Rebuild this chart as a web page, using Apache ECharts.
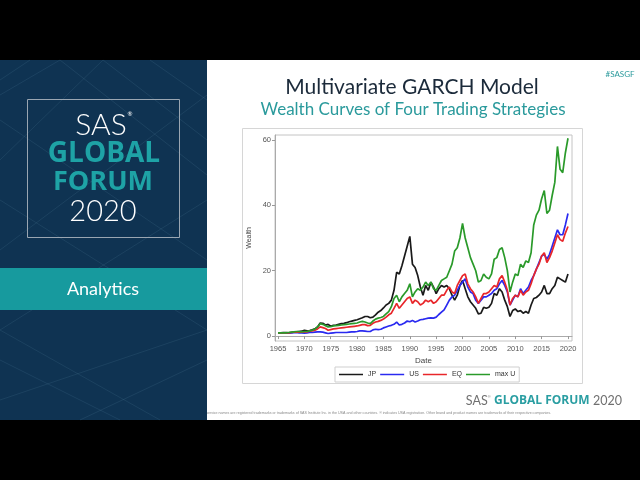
<!DOCTYPE html>
<html>
<head>
<meta charset="utf-8">
<script src="https://cdn.jsdelivr.net/npm/echarts@6/dist/echarts.min.js"></script>
<style>
html,body{margin:0;padding:0;background:#000;}
#main{width:640px;height:480px;}
</style>
</head>
<body>
<div id="main"></div>
<script>
// ---- data ----
const dates = [];
for (let y = 1965; y <= 2020; y += 0.5) dates.push(y);

const seriesNames = ['JP', 'US', 'EQ', 'max U'];
const xTicks = [1965, 1970, 1975, 1980, 1985, 1990, 1995, 2000, 2005, 2010, 2015, 2020];
const yTicks = [0, 20, 40, 60];

const jp = [1.0,1.0,1.1,1.1,1.0,1.1,1.2,1.3,1.4,1.5,1.8,1.6,1.7,1.9,2.2,2.8,4.0,3.9,3.4,3.6,
  3.0,3.3,3.4,3.6,3.8,3.9,4.1,4.4,4.6,4.8,5.0,5.3,5.6,6.0,6.0,5.6,5.8,6.5,7.3,7.8,
  8.6,9.5,10.0,11.0,14.0,19.5,19.0,21.5,24.5,27.5,30.5,22.0,21.0,18.5,15.0,12.5,15.5,14.0,16.5,15.0,
  13.0,14.5,15.5,15.0,15.5,14.5,12.5,11.0,12.5,15.5,17.0,14.5,12.0,10.5,9.5,8.5,6.8,7.0,8.8,8.5,
  8.8,10.0,13.0,12.5,14.5,13.5,11.0,9.0,6.0,7.8,8.3,7.5,7.8,7.0,7.5,7.0,9.5,11.5,11.8,12.5,
  13.5,15.5,13.0,13.0,14.5,15.5,18.0,17.5,17.0,16.5,19.0];

const us = [1.0,1.0,0.95,0.95,1.0,1.0,1.05,1.1,1.0,0.95,0.9,0.95,1.1,1.1,1.2,1.3,1.3,1.2,1.0,0.8,
  0.9,1.0,1.1,1.1,1.1,1.1,1.1,1.2,1.3,1.3,1.4,1.6,1.6,1.5,1.4,1.4,1.9,2.1,2.0,2.1,
  2.5,2.8,3.1,3.3,3.6,4.3,3.4,3.6,4.0,4.6,4.4,4.8,4.3,4.6,5.0,5.1,5.3,5.5,5.6,5.5,
  5.8,6.6,7.3,8.0,9.5,11.0,12.0,12.5,14.0,15.5,16.5,17.5,15.0,13.5,13.0,11.0,10.0,11.0,12.0,12.0,
  12.5,13.0,14.0,14.5,16.0,17.0,15.5,13.5,9.5,11.0,12.5,12.0,14.5,13.0,14.0,15.0,17.0,18.5,20.5,22.5,
  24.5,25.0,23.5,25.0,27.5,30.0,32.5,31.0,31.0,34.0,37.5];

const eq = [1.0,1.0,1.0,1.0,1.0,1.1,1.2,1.2,1.2,1.2,1.3,1.3,1.5,1.6,1.8,2.2,2.8,2.6,2.3,1.8,
  2.0,2.2,2.3,2.4,2.5,2.6,2.7,2.8,2.9,3.0,3.1,3.3,3.5,3.5,3.2,3.3,3.9,4.3,4.5,4.8,
  5.2,5.8,6.5,7.0,8.5,10.0,8.5,9.5,10.5,11.5,12.0,10.0,11.0,10.5,9.5,10.0,11.0,10.5,11.0,10.0,
  10.5,11.5,12.5,12.5,14.0,15.0,13.5,13.0,15.5,17.0,18.5,19.0,16.0,14.5,13.5,12.0,10.0,11.5,13.0,13.0,
  13.5,14.5,15.5,15.0,17.5,18.5,16.5,14.0,9.5,11.5,12.5,12.0,14.0,12.5,13.5,14.0,16.0,18.5,20.5,22.0,
  24.5,25.5,22.5,24.0,26.0,28.5,31.0,29.5,29.0,31.5,33.5];

const maxU = [1.0,1.0,1.0,1.0,1.1,1.2,1.3,1.4,1.4,1.3,1.4,1.4,1.6,1.8,2.2,2.8,3.8,3.6,3.2,2.8,
  2.9,3.1,3.2,3.3,3.4,3.5,3.6,3.7,3.8,3.9,4.0,4.3,4.5,4.3,4.0,3.8,4.6,5.2,5.5,5.7,
  6.0,6.8,7.5,9.0,11.5,12.5,10.5,12.0,13.0,14.0,16.0,12.0,13.5,14.5,14.0,15.0,16.5,15.5,16.5,14.5,
  14.0,15.5,17.0,17.5,18.0,20.0,22.0,26.0,27.0,30.0,34.5,30.0,27.0,24.0,22.0,20.0,16.5,17.0,19.0,18.0,
  17.5,19.0,23.5,24.0,26.5,27.0,24.0,20.0,13.5,16.5,19.0,18.5,22.0,21.0,23.0,22.5,25.5,34.0,37.0,38.5,
  42.0,44.5,37.5,38.5,43.0,47.0,58.0,51.0,50.0,56.0,60.5];

const seriesValues = [jp, us, eq, maxU];
const seriesColors = ['#1a1a1a', '#2a2af0', '#e8262a', '#2a9a2a'];

// ---- decoration helpers ----
const navy = '#0f3352';
const teal = '#179a9e';
const patternLines = [
  [[0,95],[60,60]], [[0,160],[103,60]], [[60,60],[207,175]], [[0,250],[207,95]],
  [[103,60],[207,140]], [[0,330],[207,200]], [[0,200],[207,330]], [[0,120],[207,260]],
  [[0,360],[120,420]], [[0,400],[207,330]], [[80,420],[207,360]], [[0,330],[160,420]],
  [[150,60],[207,100]], [[30,60],[0,80]]
];

const chart = echarts.init(document.getElementById('main'));
const graphics = [
  {type:'rect', z:-10, shape:{x:0,y:0,width:640,height:480}, style:{fill:'#000'}},
  {type:'rect', z:-9, shape:{x:0,y:60,width:640,height:360}, style:{fill:'#fff'}},
  // trademark line (partially hidden by the left panel)
  {type:'text', z:-8, style:{x:551, y:413, text:'Copyright © SAS Institute Inc. All rights reserved. SAS and all other SAS Institute Inc. product or service names are registered trademarks or trademarks of SAS Institute Inc. in the USA and other countries. ® indicates USA registration. Other brand and product names are trademarks of their respective companies.', textAlign:'right', textVerticalAlign:'middle', fontSize:3.6, fill:'#888', fontFamily:'Liberation Sans'}},
  {type:'rect', z:-7, shape:{x:0,y:60,width:207,height:360}, style:{fill:navy}},
];
patternLines.forEach(p => graphics.push({type:'line', z:-6, shape:{x1:p[0][0],y1:p[0][1],x2:p[1][0],y2:p[1][1]}, style:{stroke:'rgba(120,170,200,0.12)', lineWidth:1}}));
graphics.push(
  {type:'rect', z:-5, shape:{x:27.5,y:99.5,width:152,height:138}, style:{fill:'none', stroke:'#9aa6b2', lineWidth:1}},
  {type:'text', z:-4, style:{x:101, y:125, text:'SAS', textAlign:'center', textVerticalAlign:'middle', fontSize:30, fill:'#fff', fontFamily:'Lato', fontWeight:300}},
  {type:'text', z:-4, style:{x:130, y:114, text:'®', textAlign:'center', textVerticalAlign:'middle', fontSize:6, fill:'#fff', fontFamily:'Lato'}},
  {type:'text', z:-4, style:{x:104, y:154, text:'GLOBAL', textAlign:'center', textVerticalAlign:'middle', fontSize:28, fill:'#1ea3a6', fontFamily:'Open Sans', fontWeight:'bold'}},
  {type:'text', z:-4, style:{x:103, y:182, text:'FORUM', textAlign:'center', textVerticalAlign:'middle', fontSize:27, fill:'#1ea3a6', fontFamily:'Open Sans', fontWeight:'bold'}},
  {type:'text', z:-4, style:{x:103, y:212, text:'2020', textAlign:'center', textVerticalAlign:'middle', fontSize:29, fill:'#fff', fontFamily:'Lato', fontWeight:300}},
  {type:'rect', z:-5, shape:{x:0,y:268,width:207,height:42}, style:{fill:teal}},
  {type:'text', z:-4, style:{x:103, y:289, text:'Analytics', textAlign:'center', textVerticalAlign:'middle', fontSize:18, fill:'#fff', fontFamily:'Lato'}},
  // slide titles
  {type:'text', z:-4, style:{x:412, y:87, text:'Multivariate GARCH Model', textAlign:'center', textVerticalAlign:'middle', fontSize:21, fill:'#1b2a3a', fontFamily:'Lato'}},
  {type:'text', z:-4, style:{x:413, y:110, text:'Wealth Curves of Four Trading Strategies', textAlign:'center', textVerticalAlign:'middle', fontSize:17, fill:'#2a9a9c', fontFamily:'Lato'}},
  {type:'text', z:-4, style:{x:620, y:74, text:'#SASGF', textAlign:'center', textVerticalAlign:'middle', fontSize:8, fill:'#2a9a9c', fontFamily:'Lato'}},
  // footer logo
  {type:'text', z:-4, style:{x:622, y:401, textAlign:'right', textVerticalAlign:'middle',
    text:'{a|SAS}{r|®} {b|GLOBAL FORUM} {a|2020}',
    rich:{a:{fontSize:12.5, fill:'#707070', fontFamily:'Lato'}, r:{fontSize:4, fill:'#707070', verticalAlign:'top'}, b:{fontSize:12, fill:'#2a9ea2', fontFamily:'Open Sans', fontWeight:'bold'}}}},
  // chart image frame
  {type:'rect', z:-3, shape:{x:242.5,y:128.5,width:340,height:255}, style:{fill:'#fff', stroke:'#d6d6d6', lineWidth:1}}
);

chart.setOption({
  animation: false,
  backgroundColor: 'transparent',
  textStyle: {fontFamily: 'Liberation Sans'},
  graphic: graphics,
  grid: {left: 275, right: 68, top: 135, bottom: 139, show: true, borderColor: '#c4c4c4', borderWidth: 1, backgroundColor: '#fff'},
  legend: {
    left: 335, top: 367, itemWidth: 24, itemHeight: 1.5, itemGap: 4, icon: 'rect',
    padding: [4, 4], borderColor: '#cfcfcf', borderWidth: 1,
    textStyle: {fontSize: 7, color: '#333'},
    data: seriesNames
  },
  xAxis: {
    type: 'value', min: 1964.43, max: 2020.76,
    name: 'Date', nameLocation: 'middle', nameGap: 16,
    nameTextStyle: {fontSize: 8, color: '#444'},
    axisLine: {show: true, lineStyle: {color: '#aaa'}},
    axisTick: {show: true, length: 3, lineStyle: {color: '#999'}, customValues: xTicks},
    axisLabel: {fontSize: 7.5, color: '#555', margin: 4, customValues: xTicks, formatter: v => String(v)},
    splitLine: {show: false}
  },
  yAxis: {
    type: 'value', min: -1.5, max: 61.5,
    name: 'Wealth', nameLocation: 'middle', nameGap: 22, nameRotate: 90,
    nameTextStyle: {fontSize: 7, color: '#444'},
    axisLine: {show: true, lineStyle: {color: '#aaa'}},
    axisTick: {show: true, length: 3, lineStyle: {color: '#999'}, customValues: yTicks},
    axisLabel: {fontSize: 7.5, color: '#555', margin: 4, customValues: yTicks},
    splitLine: {show: false}
  },
  series: seriesNames.map((n, i) => ({
    name: n, type: 'line', symbol: 'none', clip: false,
    data: dates.map((d, j) => [d, seriesValues[i][j]]),
    lineStyle: {width: 1.7, color: seriesColors[i]},
    itemStyle: {color: seriesColors[i]}
  }))
});
</script>
</body>
</html>
